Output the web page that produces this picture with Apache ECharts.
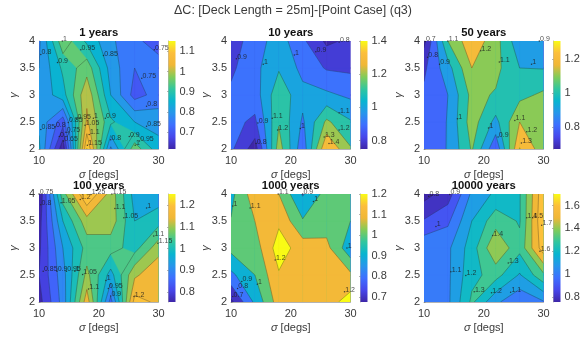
<!DOCTYPE html>
<html>
<head>
<meta charset="utf-8">
<style>
  html, body { margin: 0; padding: 0; background: #fff; }
  #chart { width: 588px; height: 337px; }
</style>
<script src="https://cdn.jsdelivr.net/npm/echarts@6/dist/echarts.min.js"></script>
</head>
<body>
<div id="chart"></div>
<script>
// grid of the runs
const sigmas = [10, 14, 18, 22, 26, 30];
const gammas = [2, 2.5, 3, 3.5, 4];

const panelTitles = ['1 years', '10 years', '50 years', '100 years', '1000 years', '10000 years'];

// delta C, one row per gamma (2 -> 4), one column per sigma
const values1 = [
    [0.86, 0.615, 1.152, 0.79, 0.98, 0.87],
    [0.84, 0.72, 1.06, 0.91, 0.85, 0.83],
    [0.81, 0.88, 1.04, 0.85, 0.73, 0.77],
    [0.80, 0.91, 0.98, 0.83, 0.75, 0.77],
    [0.79, 0.985, 0.89, 0.81, 0.76, 0.73]
];
const values2 = [
    [0.92, 0.75, 1.25, 0.93, 1.4, 1.21],
    [0.93, 0.88, 1.19, 0.985, 1.22, 1.11],
    [0.92, 0.95, 1.17, 1.03, 1.02, 0.98],
    [0.88, 0.97, 1.09, 0.97, 0.89, 0.88],
    [0.85, 0.95, 1.05, 0.92, 0.78, 0.82]
];
const values3 = [
    [0.84, 0.905, 1.11, 0.82, 1.305, 1.14],
    [0.83, 0.905, 1.15, 0.97, 1.2, 1.13],
    [0.82, 0.90, 1.13, 1.09, 1.07, 1.12],
    [0.78, 0.96, 1.2, 1.13, 1.0, 0.995],
    [0.673, 1.1, 1.27, 1.14, 0.93, 0.9]
];
const values4 = [
    [0.78, 0.92, 1.18, 0.88, 1.22, 1.19],
    [0.80, 0.93, 1.115, 0.98, 1.14, 1.19],
    [0.79, 0.95, 1.07, 1.07, 1.03, 1.13],
    [0.78, 1.0, 1.13, 1.13, 1.0, 1.03],
    [0.754, 1.08, 1.252, 1.13, 0.98, 0.97]
];
const values5 = [
    [0.676, 0.92, 1.15, 1.15, 1.15, 1.25],
    [0.875, 1.0, 1.19, 1.15, 1.15, 1.12],
    [1.03, 1.05, 1.25, 1.15, 1.13, 0.93],
    [1.005, 1.1, 1.18, 1.01, 1.05, 1.0],
    [0.97, 1.16, 1.1, 0.89, 1.04, 1.05]
];
const values6 = [
    [1.05, 1.08, 1.32, 1.12, 1.02, 1.09],
    [1.05, 1.08, 1.27, 1.34, 1.19, 1.38],
    [1.08, 1.08, 1.25, 1.49, 1.33, 1.66],
    [0.91, 0.98, 1.2, 1.36, 1.29, 1.70],
    [0.76, 0.85, 1.12, 1.22, 1.29, 1.68]
];

// contour levels
const levels1 = [0.65, 0.7, 0.75, 0.8, 0.85, 0.9, 0.95, 1, 1.05, 1.1, 1.15];
const levels2 = [0.8, 0.9, 1, 1.1, 1.2, 1.3, 1.4];
const levels3 = [0.7, 0.8, 0.9, 1, 1.1, 1.2, 1.3];
const levels4 = [0.75, 0.8, 0.85, 0.9, 0.95, 1, 1.05, 1.1, 1.15, 1.2, 1.25];
const levels5 = [0.7, 0.8, 0.9, 1, 1.1, 1.2];
const levels6 = [0.8, 0.9, 1, 1.1, 1.2, 1.3, 1.4, 1.5, 1.6, 1.7];

// colour limits and colorbar ticks
const clims = [[0.615, 1.152], [0.75, 1.4], [0.673, 1.305], [0.754, 1.252], [0.676, 1.2], [0.76, 1.7]];
const barTicks = [
    [0.7, 0.8, 0.9, 1, 1.1],
    [0.8, 1, 1.2, 1.4],
    [0.8, 1, 1.2],
    [0.8, 0.9, 1, 1.1, 1.2],
    [0.7, 0.8, 0.9, 1, 1.1, 1.2],
    [0.8, 1, 1.2, 1.4, 1.6]
];

// contour labels: sigma, gamma, text
const labels1 = [
    [13.9, 4, '1'], [10.3, 3.75, '0.8'], [13.1, 3.6, '0.9'], [17, 3.84, '0.95'], [20.8, 3.73, '0.85'],
    [29.3, 3.84, '0.75'], [27.2, 3.31, '0.75'], [28, 2.79, '0.8'], [28, 2.42, '0.85'], [25.1, 2.23, '0.9'],
    [26.8, 2.15, '0.95'], [26.1, 2.07, '1'], [22, 2.17, '0.8'], [21.1, 2.57, '0.9'], [19.1, 2.57, '1'],
    [16.3, 2.56, '0.95'], [14.9, 2.49, '0.85'], [17.7, 2.44, '1.05'], [10.3, 2.36, '0.85'], [12.7, 2.41, '0.8'],
    [14.5, 2.31, '0.75'], [13.4, 2.23, '0.7'], [14.1, 2.15, '0.65'], [18.4, 2.27, '1.1'], [18.1, 2.07, '1.15']
];
const labels2 = [
    [10.9, 3.67, '0.9'], [15.4, 3.57, '1'], [20.6, 3.74, '1'], [24.2, 3.8, '0.9'], [28.1, 3.98, '0.8'],
    [28.1, 2.67, '1.1'], [28.1, 2.35, '1.2'], [25.6, 2.22, '1.3'], [26.4, 2.1, '1.4'], [21.6, 2.38, '1'],
    [17.8, 2.35, '1.2'], [16.9, 2.57, '1.1'], [14.5, 2.48, '0.9'], [14.2, 2.1, '0.8']
];
const labels3 = [
    [10.2, 3.99, '0.7'], [10.6, 3.7, '0.8'], [12.6, 3.57, '0.9'], [14, 4, '1.1'], [19.5, 3.82, '1.2'],
    [22.6, 3.61, '1.1'], [28, 3.57, '1'], [29.3, 4, '0.9'], [15.6, 2.56, '1'], [20.8, 2.39, '1'],
    [22.4, 2.22, '0.9'], [25.2, 2.53, '1.1'], [27.2, 2.32, '1.2'], [26.3, 2.11, '1.3']
];
const labels4 = [
    [10, 4, '0.75'], [10.3, 3.8, '0.8'], [13.7, 3.84, '1.05'], [16.9, 3.9, '1.2'], [18.7, 3.99, '1.25'],
    [22.2, 4, '1.15'], [22.7, 3.73, '1.1'], [24.2, 3.56, '1.05'], [28, 3.74, '1'], [29.2, 3.22, '1.1'],
    [29.9, 3.09, '1.15'], [10.7, 2.57, '0.85'], [13, 2.57, '0.9'], [14.6, 2.57, '0.95'], [16, 2.57, '1'],
    [17.3, 2.51, '1.05'], [21.2, 2.4, '1'], [18.3, 2.24, '1.1'], [21.6, 2.25, '0.95'], [22, 2.11, '0.9'],
    [25.9, 2.1, '1.2']
];
const labels5 = [
    [10.3, 3.78, '1'], [13.2, 3.74, '1.1'], [17.9, 4, '1.1'], [22, 4, '0.9'], [23.8, 3.86, '1'],
    [29.4, 3, '1'], [17.4, 2.78, '1.2'], [29, 2.19, '1.2'], [11.8, 2.38, '0.9'], [11.1, 2.25, '0.8'],
    [10.3, 2.1, '0.7'], [14.4, 2.33, '1']
];
const labels6 = [
    [10.8, 3.96, '0.8'], [14.3, 3.99, '0.9'], [12, 3.4, '1'], [21.5, 3.23, '1.4'], [27.2, 3.56, '1.4'],
    [28.2, 3.56, '1.5'], [29.7, 3.42, '1.7'], [29.4, 2.94, '1.6'], [24.1, 2.72, '1.3'], [14.5, 2.56, '1.1'],
    [17, 2.49, '1.2'], [18.4, 2.19, '1.3'], [21.3, 2.17, '1.2'], [24.5, 2.18, '1.1']
];

const allValues = [values1, values2, values3, values4, values5, values6];
const allLevels = [levels1, levels2, levels3, levels4, levels5, levels6];
const allLabels = [labels1, labels2, labels3, labels4, labels5, labels6];

// layout, px
const PANEL_LEFT = [39, 231, 424, 39, 231, 424];
const PANEL_TOP = [41, 41, 41, 194, 194, 194];
const PANEL_W = 119.5;
const PANEL_H = 108;
const BAR_GAP = 10;
const BAR_W = 7;

const TEXT = '#3a3a3a';
const FONT = '"Liberation Sans", Arial, sans-serif';
const TICK_SIZE = 11;

// parula, sampled
const PARULA = [
    [62, 38, 168], [71, 71, 235], [62, 111, 255], [39, 150, 235], [8, 181, 208],
    [49, 198, 159], [129, 204, 89], [240, 183, 55], [252, 190, 60], [249, 251, 21]
];

function parula(t) {
    t = Math.max(0, Math.min(1, t)) * (PARULA.length - 1);
    const i = Math.min(Math.floor(t), PARULA.length - 2);
    const f = t - i;
    const c = PARULA[i].map((v, k) => Math.round(v + (PARULA[i + 1][k] - v) * f));
    return `rgb(${c[0]},${c[1]},${c[2]})`;
}

function cellCorners(vals, r, c) {
    return [
        [sigmas[c], gammas[r], vals[r][c]],
        [sigmas[c + 1], gammas[r], vals[r][c + 1]],
        [sigmas[c + 1], gammas[r + 1], vals[r + 1][c + 1]],
        [sigmas[c], gammas[r + 1], vals[r + 1][c]]
    ];
}

function crossing(a, b, L) {
    const f = (L - a[2]) / (b[2] - a[2]);
    return [a[0] + (b[0] - a[0]) * f, a[1] + (b[1] - a[1]) * f, L];
}

// part of a cell where v >= L
function clipCell(pts, L) {
    const out = [];
    pts.forEach((a, i) => {
        const b = pts[(i + 1) % pts.length];
        if (a[2] >= L) out.push(a);
        if ((a[2] >= L) !== (b[2] >= L)) out.push(crossing(a, b, L));
    });
    return out;
}

function contourSegments(pts, L) {
    const hits = [];
    pts.forEach((a, i) => {
        const b = pts[(i + 1) % pts.length];
        if ((a[2] >= L) !== (b[2] >= L)) hits.push(crossing(a, b, L));
    });
    const segs = [];
    for (let i = 0; i + 1 < hits.length; i += 2) segs.push([hits[i], hits[i + 1]]);
    return segs;
}

function forEachCell(fn) {
    for (let r = 0; r < gammas.length - 1; r++) {
        for (let c = 0; c < sigmas.length - 1; c++) fn(r, c);
    }
}

function panelClip(params) {
    const s = params.coordSys;
    return { type: 'rect', shape: { x: s.x, y: s.y, width: s.width, height: s.height } };
}

const grid = [], xAxis = [], yAxis = [], series = [];
const title = [{
    text: '\u0394C: [Deck Length = 25m]-[Point Case] (q3)',
    left: 293, top: 11, padding: 0, textAlign: 'center', textVerticalAlign: 'middle',
    textStyle: { fontFamily: FONT, fontSize: 12.5, fontWeight: 'normal', color: TEXT }
}];

panelTitles.forEach((name, p) => {
    const vals = allValues[p], levels = allLevels[p], clim = clims[p];
    const barIndex = p + 6;

    title.push({
        text: name,
        left: PANEL_LEFT[p] + PANEL_W / 2, top: PANEL_TOP[p] - 8, padding: 0, textAlign: 'center', textVerticalAlign: 'middle',
        textStyle: { fontFamily: FONT, fontSize: 11.3, fontWeight: 'bold', color: '#111' }
    });

    grid[p] = { left: PANEL_LEFT[p], top: PANEL_TOP[p], width: PANEL_W, height: PANEL_H };
    grid[barIndex] = { left: PANEL_LEFT[p] + PANEL_W + BAR_GAP, top: PANEL_TOP[p], width: BAR_W, height: PANEL_H };

    const axisBits = {
        axisLine: { onZero: false, lineStyle: { color: '#666', width: 0.5 } },
        axisTick: { inside: true, length: 1.5, lineStyle: { color: '#666', width: 0.5 } },
        splitLine: { show: false }
    };
    const nameStyle = {
        color: TEXT, fontFamily: FONT, fontSize: TICK_SIZE,
        rich: { i: { fontStyle: 'italic', fontFamily: FONT, fontSize: TICK_SIZE, color: TEXT } }
    };

    xAxis[p] = {
        gridIndex: p, type: 'value', min: 10, max: 30, interval: 10, ...axisBits,
        axisLabel: { color: TEXT, fontFamily: FONT, fontSize: TICK_SIZE, margin: 6 },
        name: '{i|\u03C3} [degs]', nameLocation: 'middle', nameGap: 20, nameMoveOverlap: false, nameTextStyle: nameStyle
    };
    yAxis[p] = {
        gridIndex: p, type: 'value', min: 2, max: 4, interval: 0.5, ...axisBits,
        axisLabel: { color: TEXT, fontFamily: FONT, fontSize: TICK_SIZE, margin: 4 },
        name: '{i|\u03B3}', nameLocation: 'middle', nameGap: 20, nameRotate: 90, nameMoveOverlap: false, nameTextStyle: nameStyle
    };

    xAxis[barIndex] = { gridIndex: barIndex, type: 'value', min: 0, max: 1, show: false };
    yAxis[barIndex] = {
        gridIndex: barIndex, type: 'value', min: clim[0], max: clim[1], position: 'right',
        axisLine: { show: true, lineStyle: { color: '#666', width: 0.5 } },
        axisTick: { show: true, inside: true, length: 1.5, lineStyle: { color: '#666', width: 0.5 }, customValues: barTicks[p] },
        axisLabel: { color: TEXT, fontFamily: FONT, fontSize: TICK_SIZE, margin: 4, customValues: barTicks[p] },
        splitLine: { show: false }
    };

    const tOf = L => (L - clim[0]) / (clim[1] - clim[0]);
    const bands = [-Infinity, ...levels];

    // filled bands, low to high, each painted over the one before
    series.push({
        type: 'custom', xAxisIndex: p, yAxisIndex: p, silent: true, animation: false,
        data: bands.map((_, i) => [i]),
        renderItem(params, api) {
            const L = bands[params.dataIndex];
            const color = parula(tOf(L));
            const children = [];
            forEachCell((r, c) => {
                const poly = clipCell(cellCorners(vals, r, c), L);
                if (poly.length < 3) return;
                children.push({
                    type: 'polygon',
                    shape: { points: poly.map(q => api.coord([q[0], q[1]])) },
                    style: { fill: color, stroke: color, lineWidth: 0.4 }
                });
            });
            return { type: 'group', children, clipPath: panelClip(params) };
        }
    });

    // contour lines
    series.push({
        type: 'custom', xAxisIndex: p, yAxisIndex: p, silent: true, animation: false,
        data: levels.map((_, i) => [i]),
        renderItem(params, api) {
            const L = levels[params.dataIndex];
            const children = [];
            forEachCell((r, c) => {
                contourSegments(cellCorners(vals, r, c), L).forEach(seg => {
                    children.push({
                        type: 'polyline',
                        shape: { points: seg.map(q => api.coord([q[0], q[1]])) },
                        style: { fill: null, stroke: 'rgba(30,30,30,0.5)', lineWidth: 0.6 }
                    });
                });
            });
            return { type: 'group', children, clipPath: panelClip(params) };
        }
    });

    // contour labels
    series.push({
        type: 'scatter', xAxisIndex: p, yAxisIndex: p, silent: true, animation: false, clip: false,
        data: allLabels[p], symbolSize: 1.5,
        itemStyle: { color: '#222' },
        label: {
            show: true, position: 'right', distance: 0, offset: [0, -2],
            formatter: q => q.data[2],
            fontFamily: FONT, fontSize: 7, color: '#1c1c1c'
        },
        z: 5
    });

    // colorbar
    series.push({
        type: 'custom', xAxisIndex: barIndex, yAxisIndex: barIndex, silent: true, animation: false,
        data: [[0]],
        renderItem(params, api) {
            const a = api.coord([0, clim[1]]), b = api.coord([1, clim[0]]);
            const stops = PARULA.map((_, i) => ({ offset: i / (PARULA.length - 1), color: parula(i / (PARULA.length - 1)) }));
            return {
                type: 'rect',
                shape: { x: a[0], y: a[1], width: b[0] - a[0], height: b[1] - a[1] },
                style: { fill: new echarts.graphic.LinearGradient(0, 1, 0, 0, stops) }
            };
        }
    });
});

const chart = echarts.init(document.getElementById('chart'), null, { renderer: 'canvas' });
chart.setOption({ animation: false, backgroundColor: '#fff', title, grid, xAxis, yAxis, series });
</script>
</body>
</html>
